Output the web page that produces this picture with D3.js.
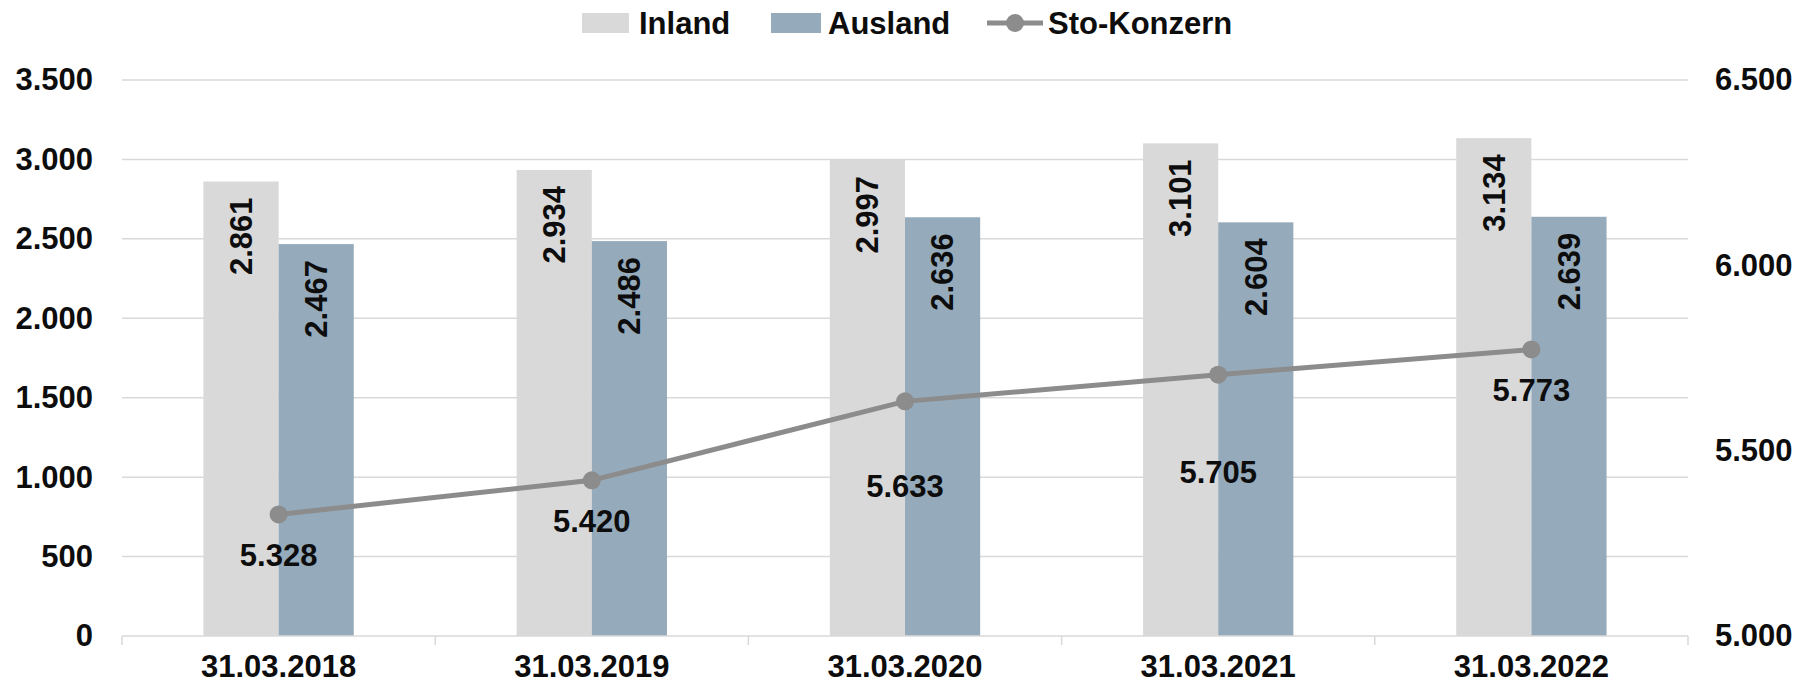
<!DOCTYPE html>
<html>
<head>
<meta charset="utf-8">
<script src="https://cdn.jsdelivr.net/npm/d3@7"></script>
<style>
  body { margin: 0; background: #fff; }
  text { font-family: "Liberation Sans", Arial, sans-serif; font-weight: bold; fill: #0d0d0d; }
</style>
</head>
<body>
<div id="chart"></div>
<script>
// Chart data
const categories = ["31.03.2018", "31.03.2019", "31.03.2020", "31.03.2021", "31.03.2022"];
const inland = [2861, 2934, 2997, 3101, 3134];
const ausland = [2467, 2486, 2636, 2604, 2639];
const konzern = [5328, 5420, 5633, 5705, 5773];
const leftTicks = [0, 500, 1000, 1500, 2000, 2500, 3000, 3500];
const rightTicks = [5000, 5500, 6000, 6500];

// label distance below each line point (placed by hand in the original)
const lineLabelOffset = [41, 41, 85, 97, 41];

const W = 1801, H = 687;
const margin = {top: 80, right: 113, bottom: 51, left: 122};
const width = W - margin.left - margin.right,
      height = H - margin.top - margin.bottom;

const colInland = "#d9d9d9", colAusland = "#95abbc", colLine = "#8c8c8c", colGrid = "#d9d9d9";
const fmt = d3.formatLocale({decimal: ",", thousands: ".", grouping: [3], currency: ["", "€"]}).format(",d");

var svg = d3.select("#chart")
  .append("svg")
  .attr("width", W)
  .attr("height", H)
  .append("g")
  .attr("transform", "translate(" + margin.left + "," + margin.top + ")");

// Scales
const x = d3.scaleBand().domain(categories).range([0, width]).paddingInner(0).paddingOuter(0);
const xSub = d3.scaleBand().domain(["inland", "ausland"]).range([x.bandwidth() * 0.26, x.bandwidth() * 0.74]);
const yL = d3.scaleLinear().domain([0, 3500]).range([height, 0]);
const yR = d3.scaleLinear().domain([5000, 6500]).range([height, 0]);

// Gridlines
svg.append("g")
  .selectAll("line")
  .data(leftTicks.slice(1))
  .join("line")
  .attr("x1", 0).attr("x2", width)
  .attr("y1", d => yL(d)).attr("y2", d => yL(d))
  .attr("stroke", colGrid).attr("stroke-width", 1.5);

// Left axis
svg.append("g")
  .call(d3.axisLeft(yL).tickValues(leftTicks).tickFormat(fmt).tickSize(0).tickPadding(29))
  .call(g => g.select(".domain").remove())
  .selectAll("text")
  .attr("font-size", 31).attr("font-family", null).attr("fill", null);

// Right axis
svg.append("g")
  .attr("transform", "translate(" + (width + 27) + ",0)")
  .call(d3.axisRight(yR).tickValues(rightTicks).tickFormat(fmt).tickSize(0).tickPadding(0))
  .call(g => g.select(".domain").remove())
  .selectAll("text")
  .attr("font-size", 31).attr("font-family", null).attr("fill", null);

// Bars
const groups = svg.append("g")
  .selectAll("g")
  .data(categories)
  .join("g")
  .attr("transform", d => "translate(" + x(d) + ",0)");

const series = [
  {key: "inland", values: inland, color: colInland},
  {key: "ausland", values: ausland, color: colAusland}
];

series.forEach(function(s) {
  groups.append("rect")
    .attr("x", xSub(s.key))
    .attr("width", xSub.bandwidth())
    .attr("y", (d, i) => yL(s.values[i]))
    .attr("height", (d, i) => height - yL(s.values[i]))
    .attr("fill", s.color);
  groups.append("text")
    .attr("transform", (d, i) => "translate(" + (xSub(s.key) + xSub.bandwidth() / 2) + "," + (yL(s.values[i]) + 16) + ") rotate(-90)")
    .attr("text-anchor", "end")
    .attr("dy", "0.35em")
    .attr("font-size", 31)
    .text((d, i) => fmt(s.values[i]));
});

// X axis
svg.append("g")
  .attr("transform", "translate(0," + height + ")")
  .call(g => g.append("line").attr("x1", 0).attr("x2", width).attr("stroke", colGrid).attr("stroke-width", 1.5))
  .call(g => g.selectAll(".tk").data(d3.range(categories.length + 1)).join("line")
    .attr("x1", i => i * x.bandwidth()).attr("x2", i => i * x.bandwidth())
    .attr("y1", 0).attr("y2", 9)
    .attr("stroke", colGrid).attr("stroke-width", 1.5))
  .call(g => g.selectAll(".lbl").data(categories).join("text")
    .attr("x", d => x(d) + x.bandwidth() / 2)
    .attr("y", 41)
    .attr("text-anchor", "middle")
    .attr("font-size", 31)
    .text(d => d));

// Line
const cx = (d, i) => x(categories[i]) + x.bandwidth() / 2;
svg.append("path")
  .datum(konzern)
  .attr("fill", "none")
  .attr("stroke", colLine)
  .attr("stroke-width", 5)
  .attr("d", d3.line().x(cx).y(d => yR(d)));

svg.append("g")
  .selectAll("circle")
  .data(konzern)
  .join("circle")
  .attr("cx", cx)
  .attr("cy", d => yR(d))
  .attr("r", 9)
  .attr("fill", colLine);

svg.append("g")
  .selectAll("text")
  .data(konzern)
  .join("text")
  .attr("x", cx)
  .attr("y", (d, i) => yR(d) + lineLabelOffset[i])
  .attr("dy", "0.35em")
  .attr("text-anchor", "middle")
  .attr("font-size", 31)
  .text(d => fmt(d));

// Legend
const legend = d3.select("svg").append("g").attr("transform", "translate(0,23)");
legend.append("rect").attr("x", 582).attr("y", -10).attr("width", 47).attr("height", 20).attr("fill", colInland);
legend.append("text").attr("x", 639).attr("dy", "0.35em").attr("font-size", 31).text("Inland");
legend.append("rect").attr("x", 771).attr("y", -10).attr("width", 50).attr("height", 20).attr("fill", colAusland);
legend.append("text").attr("x", 828).attr("dy", "0.35em").attr("font-size", 31).text("Ausland");
legend.append("line").attr("x1", 987).attr("x2", 1043).attr("stroke", colLine).attr("stroke-width", 5);
legend.append("circle").attr("cx", 1015).attr("r", 9).attr("fill", colLine);
legend.append("text").attr("x", 1048).attr("dy", "0.35em").attr("font-size", 31).text("Sto-Konzern");
</script>
</body>
</html>
